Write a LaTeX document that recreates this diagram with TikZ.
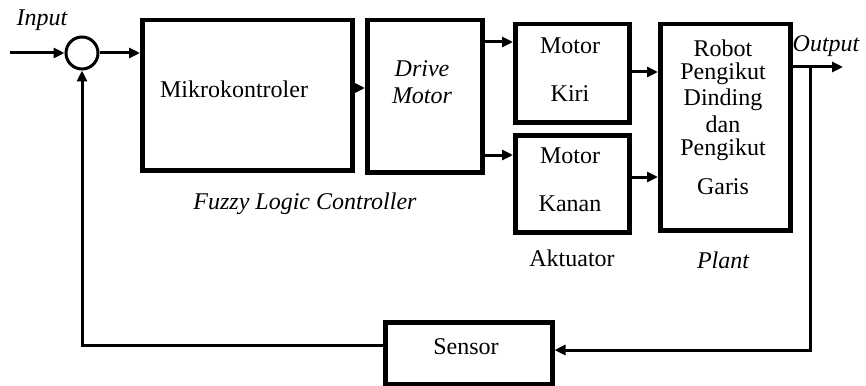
\documentclass[tikz,border=0pt]{standalone}
\usepackage{fontspec}
\setmainfont{Liberation Serif}
\usetikzlibrary{arrows.meta}
\begin{document}
\begin{tikzpicture}[x=1pt,y=-1pt,
  box/.style={draw,line width=4.5pt,inner sep=0pt,anchor=north west},
  conn/.style={line width=3pt,-{Triangle[length=11pt,width=10pt]}},
  wire/.style={line width=3pt},
  txt/.style={font=\fontsize{24}{25}\selectfont,inner sep=0pt},
  itx/.style={font=\fontsize{24}{25}\selectfont\itshape,inner sep=0pt}]
\useasboundingbox (0,0) rectangle (866,385);
% blocks
\node[draw,circle,line width=3pt,minimum size=32pt,inner sep=0pt] (sum) at (82,53) {};
\node[box,minimum width=210pt,minimum height=150pt] (mk) at (140,18) {};
\node[box,minimum width=115pt,minimum height=152pt] (dm) at (365,18) {};
\node[box,minimum width=114pt,minimum height=98pt] (kiri) at (513,22) {};
\node[box,minimum width=114pt,minimum height=97pt] (kanan) at (513,133) {};
\node[box,minimum width=130pt,minimum height=206pt] (plant) at (658,22) {};
\node[box,minimum width=167pt,minimum height=62pt] (sensor) at (383,320) {};
\coordinate (in) at (10,53);
\coordinate (out) at (843,67);
\coordinate (tap) at (810,67);
% texts
\node[itx] (tin) at (42,20) {Input};
\node[itx] (tout) at (826,46) {Output};
\node[txt] (tmk) at (234,89) {Mikrokontroler};
\node[itx] (tdm1) at (422,69) {Drive};
\node[itx] (tdm2) at (422,96) {Motor};
\node[txt] (tk1) at (570,46) {Motor};
\node[txt] (tk2) at (570,94) {Kiri};
\node[txt] (tn1) at (570,156) {Motor};
\node[txt] (tn2) at (570,204) {Kanan};
\node[txt] (tp1) at (723,48) {Robot};
\node[txt] (tp2) at (723,74) {Pengikut};
\node[txt] (tp3) at (723,100) {Dinding};
\node[txt] (tp4) at (723,124) {dan};
\node[txt] (tp5) at (723,150) {Pengikut};
\node[txt] (tp6) at (723,187) {Garis};
\node[itx] (tflc) at (305,204) {Fuzzy Logic Controller};
\node[txt] (takt) at (572,258) {Aktuator};
\node[itx] (tpl) at (723,260) {Plant};
\node[txt] (tsen) at (466,347) {Sensor};
% connectors
\draw[conn] (in) -- (sum.west);
\draw[conn] (sum.east) -- (sum.east -| mk.west);
\draw[conn] (mk.east |- 0,88) -- (dm.west |- 0,88);
\draw[conn] (dm.east |- 0,42) -- (kiri.west |- 0,42);
\draw[conn] (dm.east |- 0,155) -- (kanan.west |- 0,155);
\draw[conn] (kiri.east |- 0,72) -- (plant.west |- 0,72);
\draw[conn] (kanan.east |- 0,177) -- (plant.west |- 0,177);
\draw[conn] (plant.east |- out) -- (out);
\draw[conn] (tap) -- (tap |- 0,350) -- (sensor.east |- 0,350);
\draw[conn] (sensor.west |- 0,345) -- (sum |- 0,345) -- (sum.south);
\end{tikzpicture}
\end{document}
